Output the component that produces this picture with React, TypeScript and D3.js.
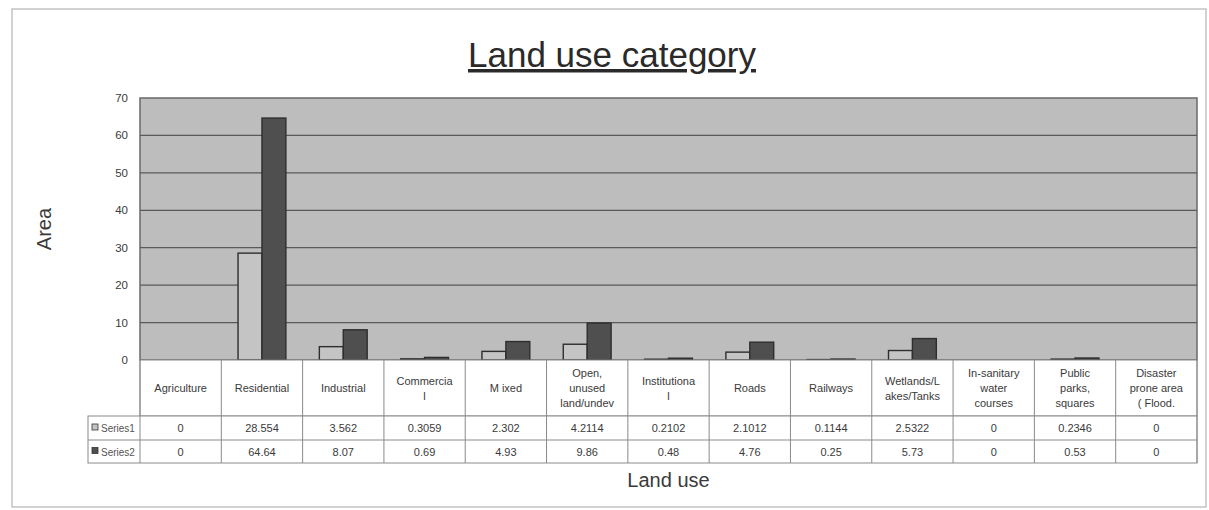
import React, { useEffect, useRef } from "react";
import * as d3 from "d3";

// category labels, wrapped the way the table shows them
const categories = [
  "Agriculture",
  "Residential",
  "Industrial",
  "Commercia\nl",
  "M ixed",
  "Open,\nunused\nland/undev",
  "Institutiona\nl",
  "Roads",
  "Railways",
  "Wetlands/L\nakes/Tanks",
  "In-sanitary\nwater\ncourses",
  "Public\nparks,\nsquares",
  "Disaster\nprone area\n( Flood.",
];
const seriesNames = ["Series1", "Series2"];
const series1 = [0, 28.554, 3.562, 0.3059, 2.302, 4.2114, 0.2102, 2.1012, 0.1144, 2.5322, 0, 0.2346, 0];
const series2 = [0, 64.64, 8.07, 0.69, 4.93, 9.86, 0.48, 4.76, 0.25, 5.73, 0, 0.53, 0];
const series1Labels = ["0", "28.554", "3.562", "0.3059", "2.302", "4.2114", "0.2102", "2.1012", "0.1144", "2.5322", "0", "0.2346", "0"];
const series2Labels = ["0", "64.64", "8.07", "0.69", "4.93", "9.86", "0.48", "4.76", "0.25", "5.73", "0", "0.53", "0"];
const yTicks = [0, 10, 20, 30, 40, 50, 60, 70];

const W = 1209;
const H = 510;

const App = () => {
  const ref = useRef<SVGSVGElement>(null);

  useEffect(() => {
    const svg = d3.select(ref.current);
    svg.selectAll("*").remove();

    const left = 140, right = 1197, top = 98, zero = 360;
    const rowCat = 416, rowS1 = 440, rowS2 = 463;
    const legendLeft = 88;
    const font = "Liberation Sans, Arial, sans-serif";
    const textCol = "#3a3a3a";
    const fills = ["#c4c4c4", "#4f4f4f"];

    const x = d3.scaleBand<number>().domain(d3.range(categories.length)).range([left, right]).padding(0);
    const x1 = d3.scaleBand<string>().domain(seriesNames).range([0, x.bandwidth()]).paddingInner(0).paddingOuter(0.7);
    const y = d3.scaleLinear().domain([0, 70]).range([zero, top]);

    // outer frame
    svg.append("rect")
      .attr("x", 12).attr("y", 9).attr("width", 1194).attr("height", 498)
      .attr("fill", "#fff").attr("stroke", "#b5b5b5").attr("stroke-width", 1.2);

    // title
    svg.append("text")
      .attr("x", 612).attr("y", 67)
      .attr("text-anchor", "middle")
      .attr("font-family", font).attr("font-size", 35)
      .attr("fill", "#2a2a2a")
      .attr("text-decoration", "underline")
      .text("Land use category");

    // plot area
    svg.append("rect")
      .attr("x", left).attr("y", top).attr("width", right - left).attr("height", zero - top)
      .attr("fill", "#bdbdbd").attr("stroke", "#6a6a6a").attr("stroke-width", 1.5);

    svg.append("g").selectAll("line")
      .data(yTicks.slice(1, -1))
      .enter().append("line")
      .attr("x1", left).attr("x2", right)
      .attr("y1", (d) => y(d)).attr("y2", (d) => y(d))
      .attr("stroke", "#5a5a5a").attr("stroke-width", 1.2);

    // y axis labels
    svg.append("g").selectAll("text")
      .data(yTicks)
      .enter().append("text")
      .attr("x", 128).attr("y", (d) => y(d) + 4)
      .attr("text-anchor", "end")
      .attr("font-family", font).attr("font-size", 11.5)
      .attr("fill", textCol)
      .text((d) => d);

    svg.append("text")
      .attr("transform", `translate(51, ${(top + zero) / 2}) rotate(-90)`)
      .attr("text-anchor", "middle")
      .attr("font-family", font).attr("font-size", 20)
      .attr("fill", textCol)
      .text("Area");

    // bars
    const data = [series1, series2];
    const g = svg.append("g");
    data.forEach((vals, si) => {
      g.selectAll(".bar" + si)
        .data(vals)
        .enter().append("rect")
        .attr("x", (d, i) => (x(i) as number) + (x1(seriesNames[si]) as number))
        .attr("y", (d) => y(d))
        .attr("width", x1.bandwidth())
        .attr("height", (d) => zero - y(d))
        .attr("fill", fills[si])
        .attr("stroke", "#2e2e2e").attr("stroke-width", 1.4);
    });

    // data table
    const t = svg.append("g");
    t.append("rect")
      .attr("x", left).attr("y", zero).attr("width", right - left).attr("height", rowCat - zero)
      .attr("fill", "#fff").attr("stroke", "#8a8a8a");
    t.append("rect")
      .attr("x", legendLeft).attr("y", rowCat).attr("width", right - legendLeft).attr("height", rowS2 - rowCat)
      .attr("fill", "#fff").attr("stroke", "#8a8a8a");
    t.append("line")
      .attr("x1", legendLeft).attr("x2", right).attr("y1", rowS1).attr("y2", rowS1)
      .attr("stroke", "#8a8a8a");
    t.selectAll(".vline")
      .data(d3.range(categories.length + 1))
      .enter().append("line")
      .attr("x1", (i) => left + i * x.step()).attr("x2", (i) => left + i * x.step())
      .attr("y1", zero).attr("y2", rowS2)
      .attr("stroke", "#8a8a8a");

    // category labels
    categories.forEach((c, i) => {
      const lines = c.split("\n");
      const cx = (x(i) as number) + x.bandwidth() / 2;
      const lh = 15;
      const startY = (zero + rowCat) / 2 - ((lines.length - 1) * lh) / 2 + 4;
      const txt = t.append("text")
        .attr("text-anchor", "middle")
        .attr("font-family", font).attr("font-size", 11)
        .attr("fill", textCol);
      lines.forEach((l, k) => {
        txt.append("tspan").attr("x", cx).attr("y", startY + k * lh).text(l);
      });
    });

    // value rows
    [series1Labels, series2Labels].forEach((labels, si) => {
      const rowTop = si === 0 ? rowCat : rowS1;
      const rowBot = si === 0 ? rowS1 : rowS2;
      const cy = (rowTop + rowBot) / 2 + 4;
      t.selectAll(".val" + si)
        .data(labels)
        .enter().append("text")
        .attr("x", (d, i) => (x(i) as number) + x.bandwidth() / 2)
        .attr("y", cy)
        .attr("text-anchor", "middle")
        .attr("font-family", font).attr("font-size", 11)
        .attr("fill", textCol)
        .text((d) => d);

      t.append("rect")
        .attr("x", legendLeft + 4).attr("y", cy - 8).attr("width", 6).attr("height", 6)
        .attr("fill", fills[si]).attr("stroke", "#333").attr("stroke-width", 0.8);
      t.append("text")
        .attr("x", legendLeft + 13).attr("y", cy)
        .attr("font-family", font).attr("font-size", 10)
        .attr("fill", "#555")
        .text(seriesNames[si]);
    });

    svg.append("text")
      .attr("x", (left + right) / 2).attr("y", 487)
      .attr("text-anchor", "middle")
      .attr("font-family", font).attr("font-size", 20)
      .attr("fill", textCol)
      .text("Land use");
  }, []);

  return (
    <svg ref={ref} width={W} height={H} style={{ position: "absolute", left: 0, top: 0, background: "#fff" }} />
  );
};

export default App;
